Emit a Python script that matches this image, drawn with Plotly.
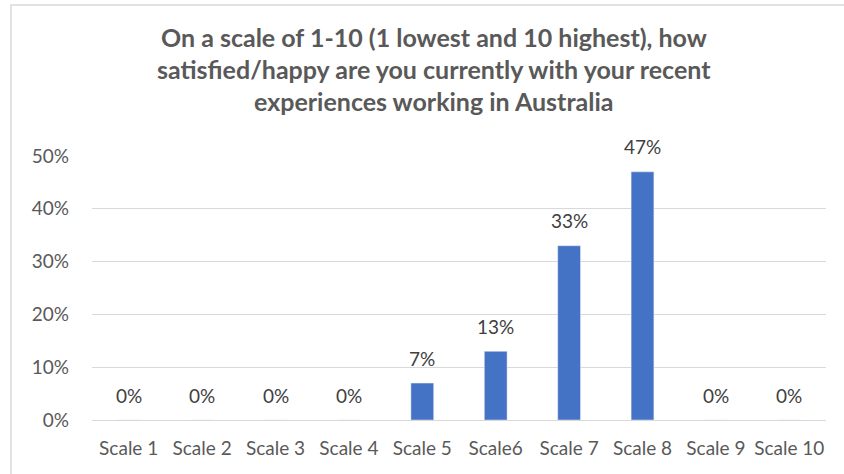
import plotly.graph_objects as go

categories = ["Scale 1", "Scale 2", "Scale 3", "Scale 4", "Scale 5",
              "Scale6", "Scale 7", "Scale 8", "Scale 9", "Scale 10"]
values = [0, 0, 0, 0, 0.07, 0.13, 0.33, 0.47, 0, 0]
title_lines = ["On a scale of 1-10 (1 lowest and 10 highest), how",
               "satisfied/happy are you currently with your recent",
               "experiences working in Australia"]
y_ticks = [0, 0.1, 0.2, 0.3, 0.4, 0.5]

FONT = "Lato"
L, R, T, B = 92, 18, 156, 54
H = 474 - T - B
W = 844 - L - R
BASE = 474 - B  # pixel y of plot bottom

fig = go.Figure()
fig.add_trace(go.Bar(x=categories, y=values, marker_color="#4472C4",
                     width=0.31, hoverinfo="skip"))

annotations = []
for c, v in zip(categories, values):
    annotations.append(dict(x=c, y=v, xref="x", yref="y", text=f"{round(v*100)}%",
                            showarrow=False, yanchor="middle", yshift=25,
                            font=dict(family=FONT, size=19, color="#404040")))
title_y = [37, 69, 101]
for t, yy in zip(title_lines, title_y):
    annotations.append(dict(x=(434 - L) / W, y=(BASE - yy) / H, xref="paper", yref="paper",
                            text=f"<b>{t}</b>", showarrow=False, yanchor="middle",
                            xanchor="center",
                            font=dict(family=FONT, size=25, color="#595959")))

fig.update_layout(
    width=844, height=474,
    margin=dict(l=L, r=R, t=T, b=B, pad=0),
    paper_bgcolor="white", plot_bgcolor="white",
    showlegend=False,
    annotations=annotations,
    yaxis=dict(range=[0, 0.5], tickvals=y_ticks, tickformat=".0%",
               showgrid=True, gridcolor="#D9D9D9", gridwidth=1,
               zeroline=False, showline=False, ticks="",
               ticklabelstandoff=22,
               tickfont=dict(family=FONT, size=19, color="#595959")),
    xaxis=dict(showgrid=False, showline=True, linecolor="#D9D9D9", ticks="",
               ticklabelstandoff=11,
               tickfont=dict(family=FONT, size=19, color="#595959")),
    shapes=[dict(type="rect", xref="paper", yref="paper",
                 x0=(11 - L) / W, x1=(900 - L) / W,
                 y0=-(520 - BASE) / H, y1=(BASE - 5) / H,
                 line=dict(color="#D9D9D9", width=1.5), layer="below")],
)
fig.write_html("out.html", config={"displayModeBar": False},
               post_script="document.body.style.margin='0';")
